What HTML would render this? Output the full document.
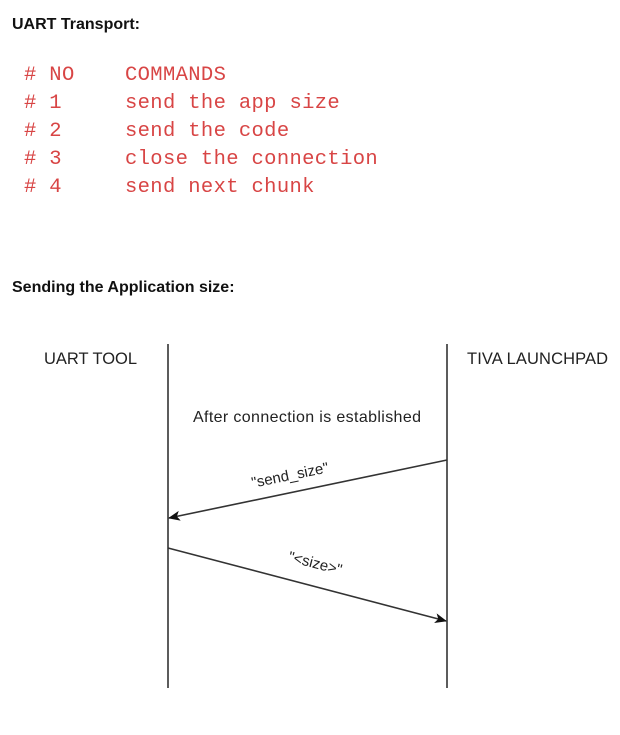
<!DOCTYPE html>
<html><head><meta charset="utf-8"><style>
body{margin:0;width:620px;height:735px;background:#fff;position:relative;overflow:hidden;font-family:"Liberation Sans",sans-serif}
.t{position:absolute;white-space:pre}
.h{font-weight:bold;font-size:16px;color:#111}
.c{font-family:"Liberation Mono",monospace;font-size:20.5px;color:#d84545;line-height:28px;letter-spacing:0.35px}
</style></head><body>
<div class="t h" style="left:12px;top:16px">UART Transport:</div>
<div class="t c" style="left:24px;top:62px"># NO
# 1
# 2
# 3
# 4</div>
<div class="t c" style="left:125px;top:62px">COMMANDS
send the app size
send the code
close the connection
send next chunk</div>
<div class="t h" style="left:12px;top:279px">Sending the Application size:</div>
<svg width="620" height="735" style="position:absolute;left:0;top:0">
<defs><marker id="a" markerWidth="12" markerHeight="10" refX="11" refY="5" orient="auto" markerUnits="userSpaceOnUse"><path d="M0,0 L12,5 L0,10 L3,5 z" fill="#111"/></marker></defs>
<g stroke="#333" stroke-width="1.6" fill="none">
<line x1="168" y1="344" x2="168" y2="688"/>
<line x1="447" y1="344" x2="447" y2="688"/>
<line x1="447" y1="460" x2="169" y2="518" marker-end="url(#a)"/>
<line x1="168" y1="548" x2="446" y2="621" marker-end="url(#a)"/>
</g>
<g font-family="Liberation Sans,sans-serif" font-size="16.5" fill="#222">
<text x="44" y="364" textLength="93">UART TOOL</text>
<text x="467" y="364" textLength="141">TIVA LAUNCHPAD</text>
<text x="193" y="422" textLength="228" font-size="16">After connection is established</text>
<text x="291" y="480" text-anchor="middle" font-size="15" transform="rotate(-11.5 291 480)">"send_size"</text>
<text x="314" y="568" text-anchor="middle" font-size="15" transform="rotate(14.5 314 568)">"&lt;size&gt;"</text>
</g>
</svg>
</body></html>
